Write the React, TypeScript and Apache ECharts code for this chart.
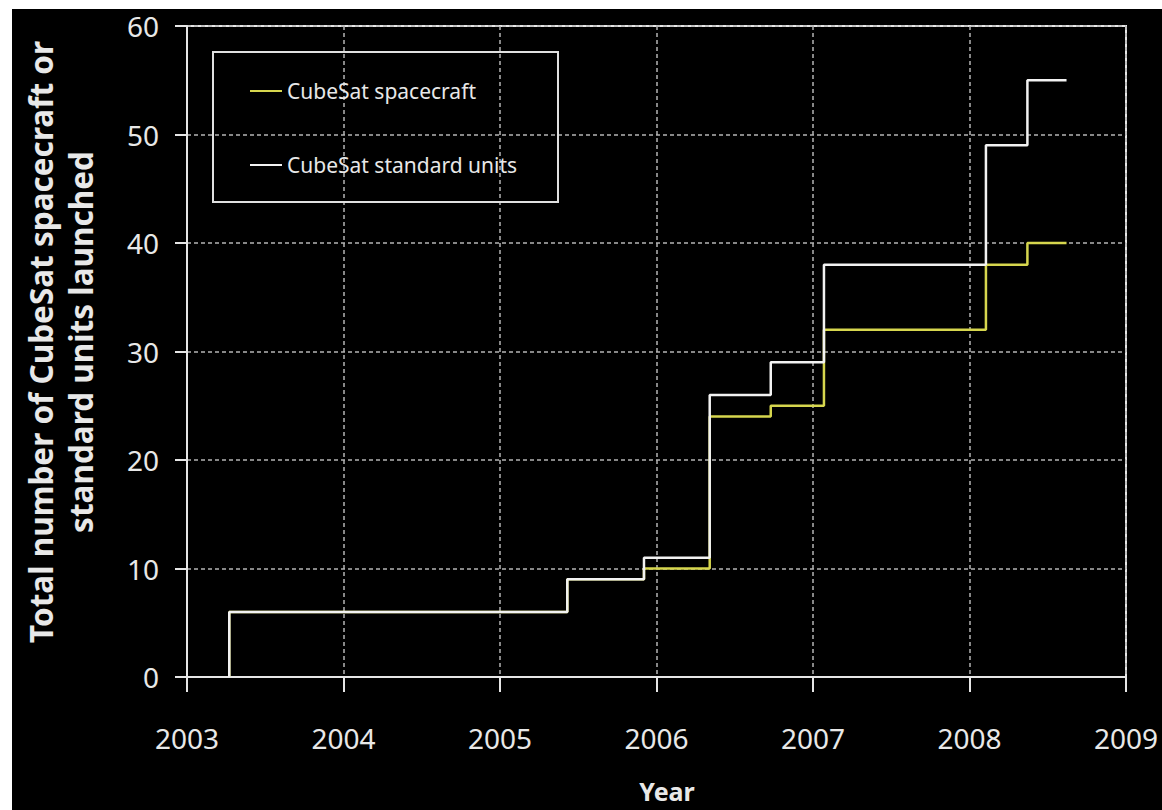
import React, { useEffect, useRef } from "react";
import * as echarts from "echarts";

// Launch dates (decimal years) at which cumulative totals step up
const launchDates = [2003.27, 2005.43, 2005.92, 2006.34, 2006.73, 2007.07, 2008.105, 2008.37];
// Cumulative CubeSat spacecraft launched
const spacecraftTotals = [6, 9, 10, 24, 25, 32, 38, 40];
// Cumulative CubeSat standard units launched
const unitTotals = [6, 9, 11, 26, 29, 38, 49, 55];
const startValue = 0;
const endDate = 2008.62;

const seriesNames = ["CubeSat spacecraft", "CubeSat standard units"];
const xTicks = [2003, 2004, 2005, 2006, 2007, 2008, 2009];
const yTicks = [0, 10, 20, 30, 40, 50, 60];

const FONT = "'Noto Sans', 'DejaVu Sans', sans-serif";
const TEXT = "#e8e8e8";

function buildSteps(values: number[]): number[][] {
  const pts: number[][] = [[launchDates[0], startValue]];
  launchDates.forEach((d, i) => pts.push([d, values[i]]));
  pts.push([endDate, values[values.length - 1]]);
  return pts;
}

export default function App() {
  const ref = useRef<HTMLDivElement>(null);
  useEffect(() => {
    if (!ref.current) return;
    const chart = echarts.init(ref.current, undefined, { renderer: "svg" });
    chart.setOption({
      animation: false,
      backgroundColor: "#000000",
      grid: {
        left: 187,
        right: 36,
        top: 26,
        bottom: 133,
        show: true,
        borderColor: "#e6e6e6",
        borderWidth: 2,
        backgroundColor: "transparent",
      },
      legend: {
        data: seriesNames,
        orient: "vertical",
        left: 250,
        top: 80,
        padding: 0,
        icon: "rect",
        itemWidth: 32,
        itemHeight: 2,
        itemGap: 52,
        textStyle: { color: TEXT, fontSize: 21, lineHeight: 22, fontFamily: FONT },
      },
      xAxis: {
        type: "value",
        min: xTicks[0],
        max: xTicks[xTicks.length - 1],
        interval: 1,
        axisLine: { show: true, lineStyle: { color: "#e6e6e6", width: 2 } },
        axisTick: { show: true, inside: false, length: 15, lineStyle: { color: "#e6e6e6", width: 2 } },
        axisLabel: {
          color: TEXT,
          fontSize: 28,
          lineHeight: 28,
          fontFamily: FONT,
          margin: 47,
          formatter: (v: number) => String(v),
        },
        splitLine: { show: true, lineStyle: { color: "#b4b4b4", width: 1.5, type: [4, 3] } },
      },
      yAxis: {
        type: "value",
        min: yTicks[0],
        max: yTicks[yTicks.length - 1],
        interval: 10,
        axisLine: { show: true, lineStyle: { color: "#e6e6e6", width: 2 } },
        axisTick: { show: true, inside: false, length: 12, lineStyle: { color: "#e6e6e6", width: 2 } },
        axisLabel: { color: TEXT, fontSize: 28, fontFamily: FONT, margin: 28 },
        splitLine: { show: true, lineStyle: { color: "#b4b4b4", width: 1.5, type: [4, 3] } },
      },
      series: [
        {
          name: seriesNames[0],
          type: "line",
          step: "end",
          symbol: "none",
          color: "#d6d64e",
          lineStyle: { color: "#d6d64e", width: 2.5 },
          data: buildSteps(spacecraftTotals),
        },
        {
          name: seriesNames[1],
          type: "line",
          step: "end",
          symbol: "none",
          color: "#f2f2f2",
          lineStyle: { color: "#f2f2f2", width: 2.5 },
          data: buildSteps(unitTotals),
        },
      ],
      graphic: [
        { type: "rect", left: 0, top: 0, shape: { width: 12, height: 810 }, style: { fill: "#ffffff" }, z: 100 },
        { type: "rect", left: 0, top: 0, shape: { width: 1162, height: 9 }, style: { fill: "#ffffff" }, z: 100 },
        {
          type: "rect",
          x: 213,
          y: 52,
          shape: { width: 345, height: 150 },
          style: { fill: "none", stroke: "#e0e0e0", lineWidth: 2 },
          z: 5,
        },
        {
          type: "text",
          x: 60,
          y: 342,
          rotation: Math.PI / 2,
          style: {
            text: "Total number of CubeSat spacecraft or\nstandard units launched",
            fill: TEXT,
            font: `bold 31.5px ${FONT}`,
            lineHeight: 40,
            align: "center",
            verticalAlign: "middle",
          },
        },
        {
          type: "text",
          x: 667,
          y: 791,
          style: {
            text: "Year",
            fill: TEXT,
            font: `bold 25px ${FONT}`,
            align: "center",
            verticalAlign: "middle",
          },
        },
      ],
    });
    return () => chart.dispose();
  }, []);
  return (
    <div
      ref={ref}
      style={{ position: "absolute", left: 0, top: 0, width: 1162, height: 810 }}
    />
  );
}
